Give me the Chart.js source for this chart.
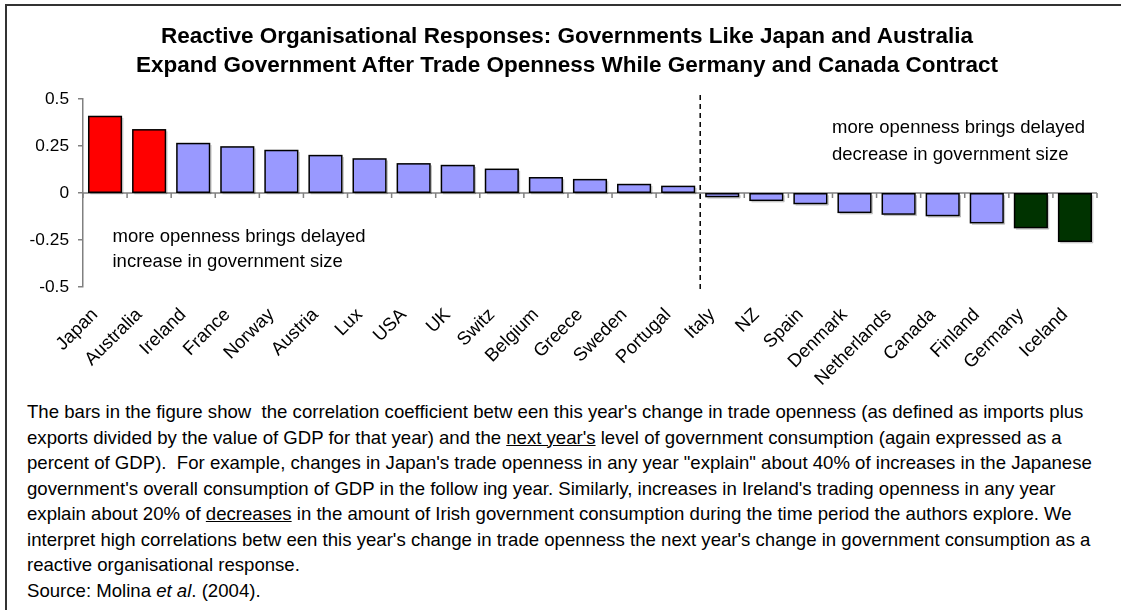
<!DOCTYPE html>
<html>
<head>
<meta charset="utf-8">
<script src="https://cdn.jsdelivr.net/npm/chart.js@4.4.1/dist/chart.umd.min.js"></script>
<style>
 html,body{margin:0;background:#fff;font-family:"Liberation Sans",Arial,sans-serif;overflow:hidden;}
 #wrap{position:relative;width:1121px;height:610px;overflow:hidden;background:#fff;}
 #frame{position:absolute;left:5px;top:4px;width:1200px;height:700px;border-left:2px solid #333;border-top:2px solid #333;}
 #title{position:absolute;left:0;top:21px;width:1134px;text-align:center;font-weight:bold;font-size:22.5px;line-height:29px;color:#000;white-space:nowrap;}
 #box{position:absolute;left:0;top:0;width:1121px;height:390px;}
 #note{position:absolute;left:27px;top:399px;font-size:18.6px;line-height:25.5px;color:#000;white-space:nowrap;}
</style>
</head>
<body>
<div id="wrap">
 <div id="frame"></div>
 <div id="box"><canvas id="chart"></canvas></div>
 <div id="title"></div>
 <div id="note">
  The bars in the figure show &nbsp;the correlation coefficient betw een this year's change in trade openness (as defined as imports plus<br>
  exports divided by the value of GDP for that year) and the <u>next year's</u> level of government consumption (again expressed as a<br>
  percent of GDP). &nbsp;For example, changes in Japan's trade openness in any year "explain" about 40% of increases in the Japanese<br>
  government's overall consumption of GDP in the follow ing year. Similarly, increases in Ireland's trading openness in any year<br>
  explain about 20% of <u>decreases</u> in the amount of Irish government consumption during the time period the authors explore. We<br>
  interpret high correlations betw een this year's change in trade openness the next year's change in government consumption as a<br>
  reactive organisational response.<br>
  Source: Molina <i>et al</i>. (2004).
 </div>
</div>
<script>
const countries = ["Japan","Australia","Ireland","France","Norway","Austria","Lux","USA","UK","Switz","Belgium","Greece","Sweden","Portugal","Italy","NZ","Spain","Denmark","Netherlands","Canada","Finland","Germany","Iceland"];
const corr = [0.407,0.336,0.263,0.245,0.226,0.199,0.181,0.155,0.146,0.126,0.081,0.071,0.045,0.035,-0.019,-0.039,-0.056,-0.103,-0.112,-0.120,-0.158,-0.184,-0.257];
const expanders = ["Japan","Australia"];
const contractors = ["Germany","Iceland"];
const yTicks = [0.5,0.25,0,-0.25,-0.5];
const titleLines = ["Reactive Organisational Responses: Governments Like Japan and Australia",
                    "Expand Government After Trade Openness While Germany and Canada Contract"];
const leftNote = ["more openness brings delayed","increase in government size"];
const rightNote = ["more openness brings delayed","decrease in government size"];
const splitAfter = "Portugal";

const FONT = '"Liberation Sans", Arial, sans-serif';

document.getElementById('title').innerHTML = titleLines.join('<br>');

const colours = countries.map(c =>
  expanders.includes(c) ? '#FF0000' : contractors.includes(c) ? '#003300' : '#9999FF');

const extras = {
  id:'extras',
  beforeDatasetsDraw(chart){
    const {ctx, chartArea:a, scales:{x,y}} = chart;
    const y0 = y.getPixelForValue(0);
    const step = x.getPixelForValue(1) - x.getPixelForValue(0);
    ctx.save();
    ctx.strokeStyle = '#808080';
    ctx.lineWidth = 1.5;
    ctx.beginPath();
    ctx.moveTo(a.left, y0);
    ctx.lineTo(a.right, y0);
    for(let i=0;i<=countries.length;i++){
      const px = x.getPixelForValue(0) - step/2 + i*step;
      ctx.moveTo(px, y0);
      ctx.lineTo(px, y0+5);
    }
    ctx.stroke();
    ctx.restore();
  },
  afterDatasetsDraw(chart){
    const {ctx, chartArea:a, scales:{x,y}} = chart;
    ctx.save();
    // bar outlines centred on the bar edges, with a faint shadow
    chart.getDatasetMeta(0).data.forEach(b => {
      const top = Math.min(b.y, b.base), h = Math.abs(b.y - b.base);
      ctx.strokeStyle = 'rgba(0,0,0,0.25)';
      ctx.lineWidth = 1;
      ctx.beginPath();
      ctx.moveTo(b.x + b.width/2 + 1.5, top + 1.5);
      ctx.lineTo(b.x + b.width/2 + 1.5, top + h + 1.5);
      ctx.lineTo(b.x - b.width/2 + 1.5, top + h + 1.5);
      ctx.stroke();
      ctx.strokeStyle = '#000';
      ctx.lineWidth = 1.5;
      ctx.strokeRect(b.x - b.width/2, top, b.width, h);
    });

    const k = countries.indexOf(splitAfter);
    const xs = (x.getPixelForValue(k) + x.getPixelForValue(k+1))/2;
    ctx.strokeStyle = '#000';
    ctx.lineWidth = 1.5;
    ctx.setLineDash([5,4]);
    ctx.beginPath();
    ctx.moveTo(xs, a.top-4);
    ctx.lineTo(xs, a.bottom+5);
    ctx.stroke();
    ctx.setLineDash([]);

    ctx.fillStyle = '#000';
    ctx.font = '18.5px ' + FONT;
    ctx.textAlign = 'left';
    ctx.textBaseline = 'middle';
    ctx.fillText(leftNote[0], a.left+29.5, y.getPixelForValue(-0.234));
    ctx.fillText(leftNote[1], a.left+29.5, y.getPixelForValue(-0.367));
    ctx.fillText(rightNote[0], a.left+749, y.getPixelForValue(0.344));
    ctx.fillText(rightNote[1], a.left+749, y.getPixelForValue(0.204));
    ctx.restore();
  }
};

new Chart(document.getElementById('chart'), {
  type:'bar',
  data:{
    labels:countries,
    datasets:[{
      data:corr,
      backgroundColor:colours,
      borderWidth:0,
      barPercentage:0.74,
      categoryPercentage:1
    }]
  },
  options:{
    responsive:true,
    maintainAspectRatio:false,
    animation:false,
    layout:{padding:{left:3,right:24,top:99,bottom:0}},
    plugins:{
      legend:{display:false},
      tooltip:{enabled:false},
      title:{display:false}
    },
    scales:{
      x:{
        grid:{display:false},
        border:{display:false},
        ticks:{
          color:'#000',
          font:{family:FONT,size:18.5},
          minRotation:45,
          maxRotation:45,
          autoSkip:false,
          padding:9,
          labelOffset:-10
        },
        afterFit(s){ s.height = 103; }
      },
      y:{
        min:-0.5,
        max:0.5,
        afterBuildTicks(s){ s.ticks = yTicks.map(v => ({value:v})); },
        grid:{drawOnChartArea:false,color:'#808080',tickLength:5,lineWidth:1.5},
        border:{color:'#808080',width:1.5},
        ticks:{
          color:'#000',
          font:{family:FONT,size:17.3},
          padding:9,
          callback:v => String(v)
        },
        afterFit(s){ s.width = 80; }
      }
    }
  },
  plugins:[extras]
});
</script>
</body>
</html>
